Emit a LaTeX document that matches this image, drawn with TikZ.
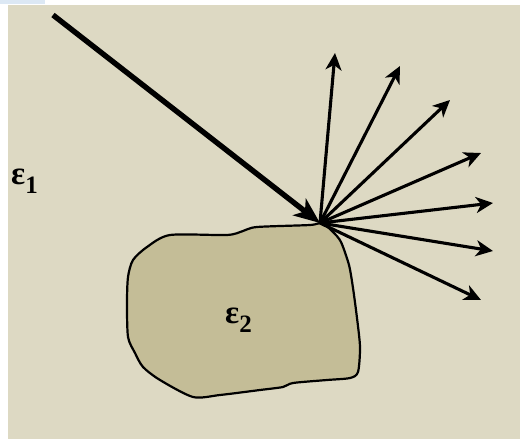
\documentclass[tikz,border=0pt]{standalone}
\usepackage{fontspec}
\setmainfont{Liberation Serif}
\usetikzlibrary{arrows.meta}
\definecolor{bgbeige}{HTML}{DDD9C3}
\definecolor{blobtan}{HTML}{C4BD97}
\definecolor{tabblue}{HTML}{DCE8F4}
\tikzset{
  incident/.style={line width=5.4pt,-{Stealth[length=26pt,width=21pt,inset=7pt]}},
  scattered/.style={line width=3.1pt,-{Stealth[length=17pt,width=16pt,inset=5pt]}},
  blob/.style={draw=black,line width=2.2pt,fill=blobtan,line join=round},
  eps/.style={font=\fontsize{33}{36}\selectfont\bfseries,inner sep=0pt,anchor=base west}
}
\begin{document}
\begin{tikzpicture}[x=1pt,y=-1pt]
\useasboundingbox (0,0) rectangle (520,439);
\fill[white] (0,0) rectangle (520,439);
\fill[bgbeige] (8,5) rectangle (520,439);
\fill[tabblue] (0,0) rectangle (45,4);
% blob
\draw[blob] plot[smooth cycle,tension=0.45] coordinates {
 (322,223) (333,232) (341,242) (349,265) (353,288) (357,318) (360,347) (358,372)
 (350,378) (327,380) (293,383) (283,387) (260,390) (220,395) (193,397) (160,380)
 (143,367) (135,353) (128,337) (127,303) (128,277) (133,260) (147,247) (170,235)
 (227,235) (243,231) (257,227) (310,225)};
\coordinate (O) at (320,223);
\coordinate (S) at (53,15);
\coordinate (r1) at (335,53);
\coordinate (r2) at (400,66);
\coordinate (r3) at (450,100);
\coordinate (r4) at (481,153);
\coordinate (r5) at (493,203);
\coordinate (r6) at (493,251);
\coordinate (r7) at (481,300);
\foreach \r in {r1,r2,r3,r4,r5,r6,r7}
  \draw[scattered] (O) -- (\r);
\draw[incident] (S) -- (O);
\node[eps] (e1) at (11,184) {ε\raisebox{-0.28em}{\fontsize{25}{25}\selectfont 1}};
\node[eps] (e2) at (225,323) {ε\raisebox{-0.28em}{\fontsize{25}{25}\selectfont 2}};
\end{tikzpicture}
\end{document}
